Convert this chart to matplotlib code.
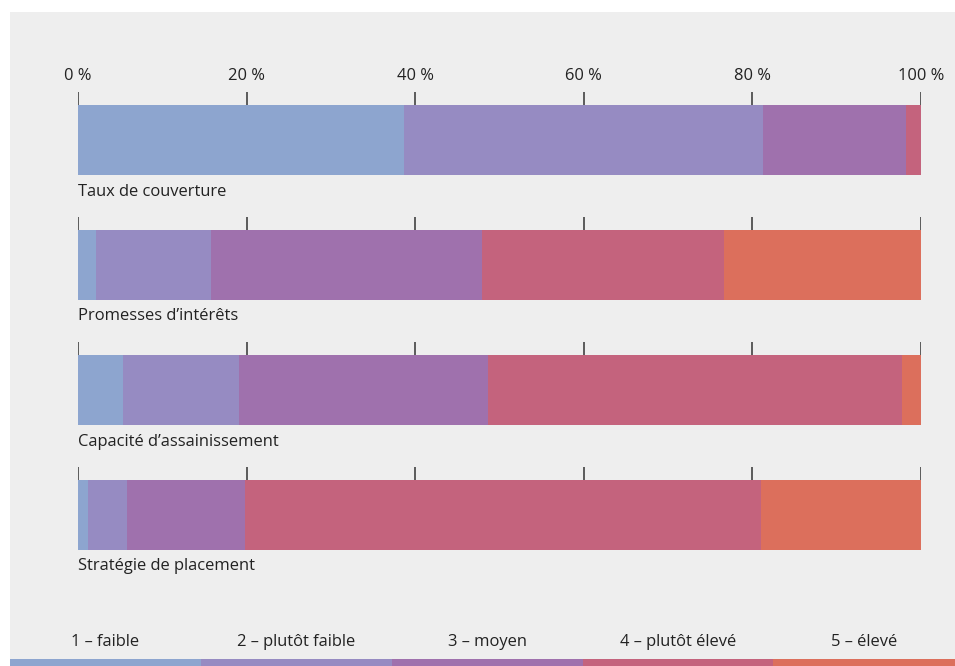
import matplotlib
matplotlib.use("Agg")
import matplotlib.pyplot as plt
from matplotlib.patches import Rectangle

plt.rcParams['font.family'] = ['Open Sans', 'DejaVu Sans']

categories = ["Taux de couverture", "Promesses d\u2019intérêts",
              "Capacité d\u2019assainissement", "Stratégie de placement"]
levels = ["1 \u2013 faible", "2 \u2013 plutôt faible", "3 \u2013 moyen",
          "4 \u2013 plutôt élevé", "5 \u2013 élevé"]
values = [
    [38.7, 42.5, 17.0, 1.8, 0.0],
    [2.1, 13.7, 32.1, 28.7, 23.4],
    [5.3, 13.8, 29.5, 49.1, 2.3],
    [1.2, 4.6, 14.0, 61.2, 19.0],
]
tick_values = [0, 20, 40, 60, 80, 100]
tick_labels = ["0 %", "20 %", "40 %", "60 %", "80 %", "100 %"]
colors = ["#8da5cf", "#968bc2", "#9f71ad", "#c4637d", "#dc6f5c"]

W, H = 955, 666
fig = plt.figure(figsize=(W / 100, H / 100), dpi=100)
fig.patch.set_facecolor("white")

# gray panel
fig.patches.append(Rectangle((10 / W, 0), (W - 10) / W, (H - 12) / H,
                             transform=fig.transFigure, facecolor="#eeeeee",
                             edgecolor="none", zorder=-5))

# axes in pixel layout
x0, x1 = 78, 921
y_top, y_bot = 60, 600
ax = fig.add_axes([x0 / W, 1 - y_bot / H, (x1 - x0) / W, (y_bot - y_top) / H])
ax.set_zorder(5)
ax.set_xlim(0, 100)
ax.set_ylim(y_bot, y_top)
ax.axis("off")

fs = 11.9
centers = [140, 265, 390, 515]
bar_h = 70
for i, (cat, vals) in enumerate(zip(categories, values)):
    c = centers[i]
    left = 0
    for v, col in zip(vals, colors):
        if v > 0:
            ax.barh(c, v, left=left, height=bar_h, color=col, edgecolor="none")
        left += v
    top = c - bar_h / 2
    ax.vlines(tick_values, top - 13, top, color="#333333", linewidth=1.1)
    ax.text(0, c + bar_h / 2 + 16.5, cat, ha="left", va="center",
            fontsize=fs, color="#222222")

for tv, tl in zip(tick_values, tick_labels):
    ax.text(tv, 76.5, tl, ha="center", va="center", fontsize=fs, color="#222222")

# legend strips at bottom
seg_edges = [10, 201, 392, 583, 773, 955]
for k, (lab, col) in enumerate(zip(levels, colors)):
    a, b = seg_edges[k], seg_edges[k + 1]
    fig.patches.append(Rectangle((a / W, 0), (b - a) / W, 7 / H,
                                 transform=fig.transFigure, facecolor=col,
                                 edgecolor="none", zorder=1))
    fig.text((a + b) / 2 / W, 1 - 642 / H, lab, ha="center", va="center",
             fontsize=fs, color="#222222")

fig.savefig("out.png", dpi=100, facecolor=fig.get_facecolor())
